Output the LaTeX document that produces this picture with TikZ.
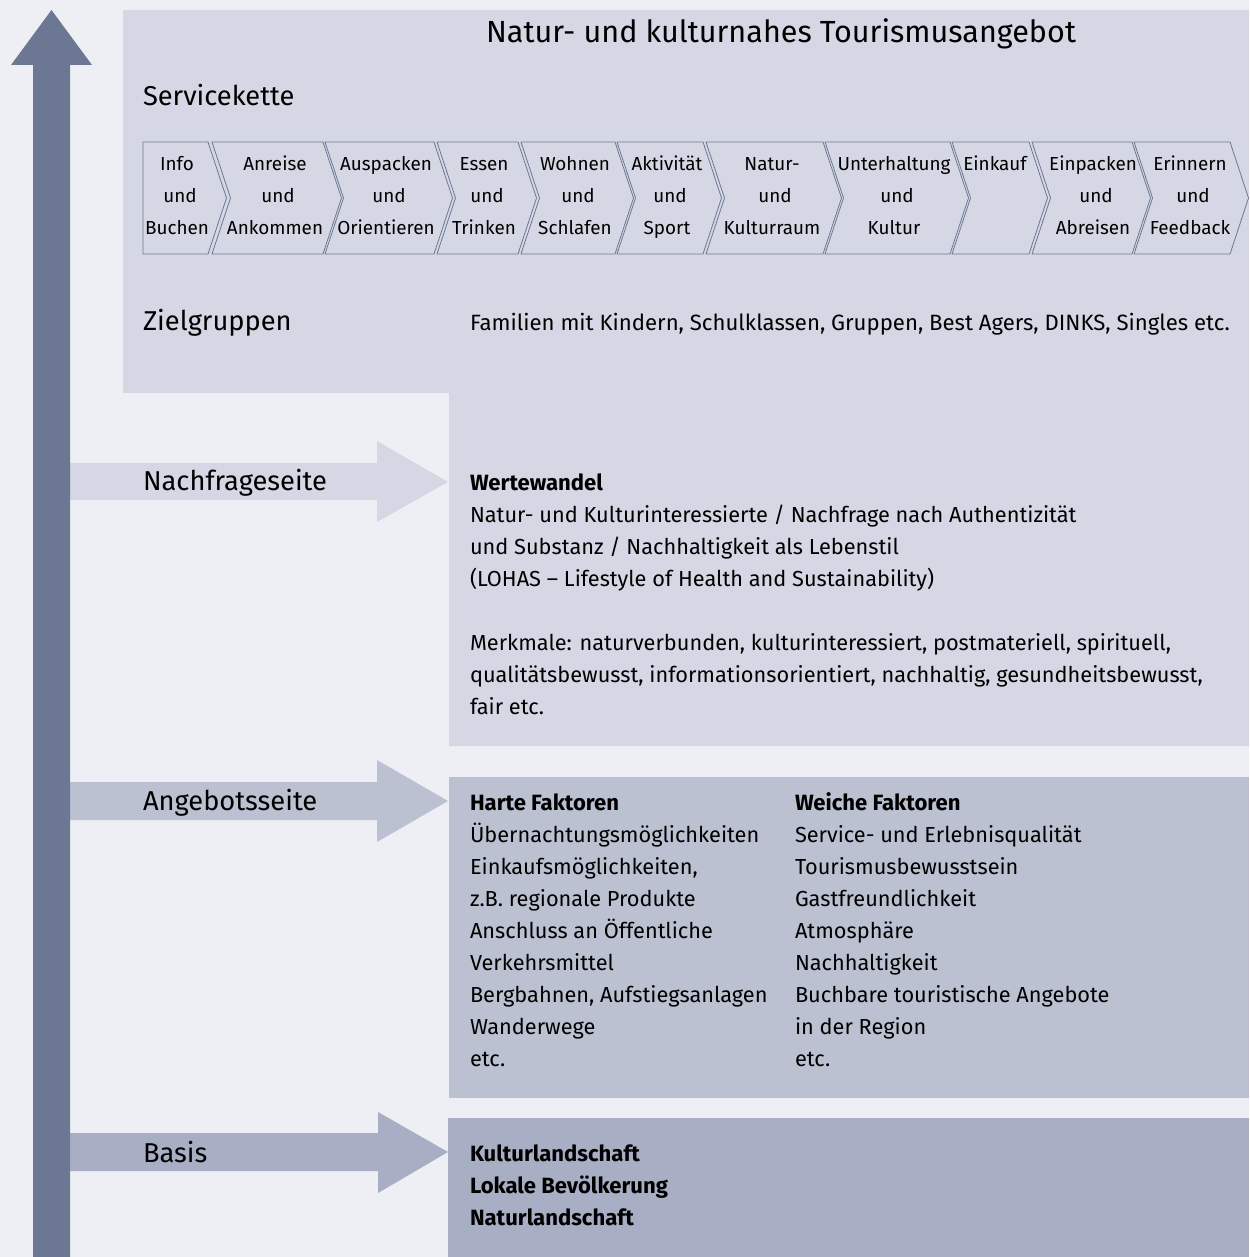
\documentclass[tikz,border=0pt]{standalone}
\usepackage{fontspec}
\setmainfont{Fira Sans}
\definecolor{bg}{HTML}{EEEFF4}
\definecolor{pone}{HTML}{D5D8E4}
\definecolor{ptwo}{HTML}{BCC1D2}
\definecolor{pthree}{HTML}{A8AEC4}
\definecolor{axc}{HTML}{6C7893}
\newsavebox\calbox
\newlength\calwd
\newcommand\calibrate[4]{%
  \sbox\calbox{#2\fontsize{10pt}{12pt}\selectfont #3}%
  \setlength\calwd{\wd\calbox}%
  \pgfmathsetmacro#1{10*#4/\the\calwd}}
\newcommand\titlef{\fontsize{\titlesize pt}{\titlesize pt}\selectfont}
\newcommand\labelf{\fontsize{\labelsize pt}{\labelsize pt}\selectfont}
\newcommand\bodyf{\fontsize{\bodysize pt}{\bodysize pt}\selectfont}
\newcommand\famf{\fontsize{\famsize pt}{\famsize pt}\selectfont}
\newcommand\boldf{\fontsize{\boldsize pt}{\boldsize pt}\selectfont\bfseries}
\newcommand\chevf{\fontsize{\chevsize pt}{\chevsize pt}\selectfont}
\begin{document}
\calibrate{\titlesize}{}{Natur- und kulturnahes Tourismusangebot}{590}%
\calibrate{\labelsize}{}{Nachfrageseite}{184}%
\calibrate{\bodysize}{}{Merkmale: naturverbunden, kulturinteressiert, postmateriell, spirituell,}{701}%
\calibrate{\famsize}{}{Familien mit Kindern, Schulklassen, Gruppen, Best Agers, DINKS, Singles etc.}{760}%
\calibrate{\boldsize}{\bfseries}{Lokale Bevölkerung}{198}%
\calibrate{\chevsize}{}{Unterhaltung}{113}%
\begin{tikzpicture}[x=1pt,y=-1pt,
  txt/.style={inner sep=0pt, outer sep=0pt, anchor=base west},
  title/.style={txt, font=\titlef, anchor=base},
  lab/.style={txt, font=\labelf},
  body/.style={txt, font=\bodyf},
  bold/.style={txt, font=\boldf},
  chevtxt/.style={inner sep=0pt, anchor=base, font=\chevf},
  chev/.style={draw=axc, line width=0.8pt, line join=miter}]
\useasboundingbox (0,0) rectangle (1249,1257);
% background
\fill[bg] (0,0) rectangle (1249,1257);
% panels
\fill[pone] (123,10) -- (1249,10) -- (1249,746) -- (449,746) -- (449,393) -- (123,393) -- cycle;
\fill[ptwo] (449,777) rectangle (1249,1098);
\fill[pthree] (448,1118) rectangle (1249,1257);
% horizontal arrows
\fill[pone] (70,463) -- (377,463) -- (377,441) -- (448,482) -- (377,522) -- (377,500) -- (70,500) -- cycle;
\fill[ptwo] (70,782) -- (377,782) -- (377,760) -- (448,801) -- (377,842) -- (377,820) -- (70,820) -- cycle;
\fill[pthree] (70,1133) -- (378,1133) -- (378,1112) -- (448,1152) -- (378,1193) -- (378,1171) -- (70,1171) -- cycle;
% big vertical arrow
\fill[axc] (33,1257) -- (33,65) -- (11,65) -- (51.5,10) -- (92,65) -- (70,65) -- (70,1257) -- cycle;
% title and labels
\node[title] (title) at (781,43) {Natur- und kulturnahes Tourismusangebot};
\node[lab] (service) at (143,106) {Servicekette};
\node[lab] (ziel) at (143,330) {Zielgruppen};
\node[lab] (nach) at (143,490) {Nachfrageseite};
\node[lab] (ange) at (143,810) {Angebotsseite};
\node[lab] (basis) at (143,1162) {Basis};
\node[txt, font=\famf] (fam) at (470,330) {Familien mit Kindern, Schulklassen, Gruppen, Best Agers, DINKS, Singles etc.};
% service chain
\draw[chev] (143,142) -- (208,142) -- (226.5,198) -- (208,254) -- (143,254) -- cycle;
\foreach \L/\R in {212/323, 325/434, 437/518, 521/615, 617/703, 706/823, 825/950, 952/1029, 1032/1132, 1134/1230}
  \draw[chev] (\L,142) -- (\R,142) -- (\R+18.5,198) -- (\R,254) -- (\L,254) -- (\L+18.5,198) -- cycle;
\foreach \c/\a/\b/\d [count=\i] in {
  177/Info/und/Buchen, 275/Anreise/und/Ankommen, 386/Auspacken/und/Orientieren,
  484/Essen/und/Trinken, 575/Wohnen/und/Schlafen, 667/Aktivität/und/Sport,
  772/Natur-/und/Kulturraum, 894/Unterhaltung/und/Kultur, 1093/Einpacken/und/Abreisen,
  1190/Erinnern/und/Feedback}{
  \node[chevtxt] (ca\i) at (\c,170.5) {\a};
  \node[chevtxt] (cb\i) at (\c+3,202.5) {\b};
  \node[chevtxt] (cc\i) at (\c,234.5) {\d};
}
\node[chevtxt] (ceink) at (995,170.5) {Einkauf};
% Nachfrage text
\node[bold] (wert) at (470,490) {Wertewandel};
\foreach \t [count=\i] in {{Natur- und Kulturinteressierte / Nachfrage nach Authentizität},
  {und Substanz / Nachhaltigkeit als Lebenstil},
  {(LOHAS – Lifestyle of Health and Sustainability)}}
  \node[body] (w\i) at (470,490+32*\i) {\t};
\foreach \t [count=\i] in {{Merkmale: naturverbunden, kulturinteressiert, postmateriell, spirituell,},
  {qualitätsbewusst, informationsorientiert, nachhaltig, gesundheitsbewusst,},
  {fair etc.}}
  \node[body] (m\i) at (470,618+32*\i) {\t};
% Angebot text
\node[bold] (harte) at (470,810) {Harte Faktoren};
\node[bold] (weiche) at (795,810) {Weiche Faktoren};
\foreach \t [count=\i] in {{Übernachtungsmöglichkeiten}, {Einkaufsmöglichkeiten,},
  {z.B. regionale Produkte}, {Anschluss an Öffentliche}, {Verkehrsmittel},
  {Bergbahnen, Aufstiegsanlagen}, {Wanderwege}, {etc.}}
  \node[body] (h\i) at (470,810+32*\i) {\t};
\foreach \t [count=\i] in {{Service- und Erlebnisqualität}, {Tourismusbewusstsein},
  {Gastfreundlichkeit}, {Atmosphäre}, {Nachhaltigkeit},
  {Buchbare touristische Angebote}, {in der Region}, {etc.}}
  \node[body] (s\i) at (795,810+32*\i) {\t};
% Basis text
\node[bold] (b1) at (470,1161) {Kulturlandschaft};
\node[bold] (b2) at (470,1193) {Lokale Bevölkerung};
\node[bold] (b3) at (470,1225) {Naturlandschaft};
\end{tikzpicture}
\end{document}
